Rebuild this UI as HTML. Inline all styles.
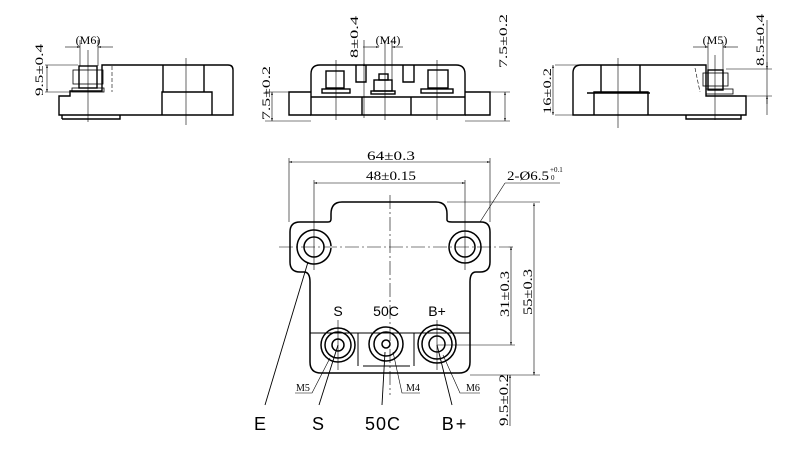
<!DOCTYPE html>
<html><head><meta charset="utf-8"><style>
html,body{margin:0;padding:0;background:#fff;}
svg{display:block}
text{font-family:"Liberation Serif",serif;fill:#000}
.s{font-family:"Liberation Sans",sans-serif}
</style></head><body>
<svg width="800" height="449" viewBox="0 0 800 449" xmlns="http://www.w3.org/2000/svg" fill="none" stroke="#000" stroke-width="1">
<defs>
<marker id="a" viewBox="0 0 10 10" refX="10" refY="5" markerWidth="7" markerHeight="5" orient="auto-start-reverse"><path d="M0,2 L10,5 L0,8z" fill="#000" stroke="none"/></marker>
</defs>

<!-- ===== Top-left side view ===== -->
<g stroke-width="1.4">
<path d="M102,65 H228 Q233,65 233,70 V115 H59 V96 H70 V91 H102 Z"/>
<line x1="62" y1="115" x2="62" y2="119"/><path d="M62,119 H120 V115"/>
<path d="M162,115 V92 H212 V115"/><line x1="163" y1="65" x2="163" y2="92"/><line x1="204" y1="65" x2="204" y2="92"/>
<rect x="79" y="66" width="18" height="22"/><rect x="73" y="70" width="30" height="14" stroke-width="0.8"/>
<rect x="72" y="88" width="32" height="4" stroke-width="0.8"/>
</g>
<g stroke-width="0.6">
<line x1="88" y1="50" x2="88" y2="122"/><line x1="186" y1="58" x2="186" y2="125"/>
<line x1="80" y1="40" x2="80" y2="66"/><line x1="98" y1="40" x2="98" y2="66"/>
<line x1="65" y1="47" x2="80" y2="47" marker-end="url(#a)"/><line x1="113" y1="47" x2="98" y2="47" marker-end="url(#a)"/>
<line x1="45" y1="65" x2="78" y2="65"/><line x1="45" y1="92" x2="72" y2="92"/>
<line x1="47" y1="65" x2="47" y2="92" marker-start="url(#a)" marker-end="url(#a)"/>
<line x1="112" y1="66" x2="112" y2="92" stroke-dasharray="4,2"/>
</g>
<text x="88" y="44" font-size="12" text-anchor="middle" stroke="none">(M6)</text>
<text transform="translate(43,96) rotate(-90)" font-size="12" textLength="52" lengthAdjust="spacingAndGlyphs" stroke="none">9.5±0.4</text>

<!-- ===== Top-middle front view ===== -->
<g stroke-width="1.4">
<path d="M311,74 Q311,65 320,65 H456 Q465,65 465,74 V115 H311 Z"/>
<path d="M311,92 H289 V115 H311"/><path d="M465,92 H490 V115 H465"/>
<line x1="311" y1="97" x2="465" y2="97"/>
<rect x="326" y="71" width="18" height="17"/><rect x="428" y="70" width="20" height="18"/>
<rect x="374" y="80" width="18" height="11"/><rect x="379" y="74" width="9" height="6"/>
<rect x="322" y="89" width="28" height="4"/><rect x="421" y="89" width="32" height="4"/><rect x="371" y="91" width="24" height="3"/>
<path d="M356,65 V82 H366 V65"/><path d="M403,65 V82 H414 V65"/>
<line x1="362" y1="97" x2="362" y2="115"/><line x1="411" y1="97" x2="411" y2="115"/>
</g>
<g stroke-width="0.6">
<line x1="336" y1="60" x2="336" y2="120"/><line x1="437" y1="60" x2="437" y2="120"/>
<line x1="385" y1="40" x2="385" y2="120"/><line x1="392" y1="40" x2="392" y2="80"/>
<line x1="363" y1="47" x2="379" y2="47" marker-end="url(#a)"/><line x1="403" y1="47" x2="392" y2="47" marker-end="url(#a)"/>
<line x1="265" y1="92" x2="289" y2="92"/><line x1="265" y1="121" x2="311" y2="121"/>
<line x1="272" y1="92" x2="272" y2="121" marker-start="url(#a)" marker-end="url(#a)"/>
<line x1="364" y1="63" x2="364" y2="118" marker-start="url(#a)"/>
<line x1="490" y1="92" x2="510" y2="92"/><line x1="465" y1="121" x2="510" y2="121"/>
<line x1="505" y1="92" x2="505" y2="121" marker-start="url(#a)" marker-end="url(#a)"/>
<line x1="364" y1="40" x2="364" y2="63"/>
</g>
<text x="388" y="44" font-size="12" text-anchor="middle" stroke="none">(M4)</text>
<text transform="translate(358,58) rotate(-90)" font-size="12" textLength="42" lengthAdjust="spacingAndGlyphs" stroke="none">8±0.4</text>
<text transform="translate(270,120) rotate(-90)" font-size="12" textLength="54" lengthAdjust="spacingAndGlyphs" stroke="none">7.5±0.2</text>
<text transform="translate(507,68) rotate(-90)" font-size="12" textLength="54" lengthAdjust="spacingAndGlyphs" stroke="none">7.5±0.2</text>

<!-- ===== Top-right side view ===== -->
<g stroke-width="1.4">
<path d="M581,65 H706 V96 H746 V115 H573 V73 Q573,65 581,65 Z"/>
<path d="M686,115 V119 H741 V115"/>
<path d="M594,115 V92 H648 V115"/><path d="M587,93 H650"/>
<line x1="601" y1="65" x2="601" y2="92"/><line x1="640" y1="65" x2="640" y2="92"/>
<rect x="708" y="70" width="15" height="20"/><rect x="703" y="73" width="25" height="13" stroke-width="0.8"/>
<rect x="706" y="89" width="27" height="5" stroke-width="0.8"/>
</g>
<g stroke-width="0.6">
<line x1="618" y1="58" x2="618" y2="128"/><line x1="715" y1="55" x2="715" y2="120"/>
<line x1="708" y1="42" x2="708" y2="70"/><line x1="723" y1="42" x2="723" y2="70"/>
<line x1="693" y1="47" x2="708" y2="47" marker-end="url(#a)"/><line x1="738" y1="47" x2="723" y2="47" marker-end="url(#a)"/>
<line x1="695" y1="68" x2="700" y2="92" stroke-dasharray="4,2"/>
<line x1="555" y1="65" x2="578" y2="65"/><line x1="555" y1="115" x2="578" y2="115"/>
<line x1="553" y1="65" x2="553" y2="115" marker-start="url(#a)" marker-end="url(#a)"/>
<line x1="726" y1="69" x2="772" y2="69"/><line x1="733" y1="96" x2="772" y2="96"/>
<line x1="767" y1="20" x2="767" y2="115" /><path d="M767,62 L767,69" marker-end="url(#a)"/><path d="M767,104 L767,96" marker-end="url(#a)"/>
</g>
<text x="715" y="44" font-size="12" text-anchor="middle" stroke="none">(M5)</text>
<text transform="translate(551,114) rotate(-90)" font-size="12" textLength="46" lengthAdjust="spacingAndGlyphs" stroke="none">16±0.2</text>
<text transform="translate(764,66) rotate(-90)" font-size="12" textLength="52" lengthAdjust="spacingAndGlyphs" stroke="none">8.5±0.4</text>

<!-- ===== Main bottom view ===== -->
<g stroke-width="1.5">
<path d="M342,202 H436 Q447,202 447,214 V220 Q447,222 452,222 H481 Q490,222 490,232 V262 Q490,272 480,272 H476 Q470,272 470,282 V362 Q470,373 459,373 H321 Q310,373 310,362 V282 Q310,272 304,272 H300 Q290,272 290,262 V232 Q290,222 300,222 H328 Q331,222 331,219 V214 Q331,202 342,202 Z"/>
<path d="M331,248 A17,17 0 1 1 331,246"/>
<circle cx="314" cy="247" r="10"/>
<circle cx="465" cy="247" r="16"/><circle cx="465" cy="247" r="10"/>
<path d="M310,333 H470" stroke-width="1"/>
<path d="M358,333 V366 M363,366 H410 M414,366 V333" stroke-width="1"/>
<circle cx="338" cy="345" r="17"/><circle cx="338" cy="345" r="13"/><circle cx="338" cy="345" r="6"/>
<circle cx="386" cy="344" r="17"/><circle cx="386" cy="344" r="12"/><circle cx="386" cy="344" r="4"/>
<circle cx="437" cy="344" r="19"/><circle cx="437" cy="344" r="15"/><circle cx="437" cy="344" r="8"/>
</g>
<g stroke-width="0.6">
<line x1="279" y1="247" x2="515" y2="247" stroke-dasharray="14,3,2,3"/>
<line x1="390" y1="195" x2="390" y2="395" stroke-dasharray="14,3,2,3"/>
<line x1="314" y1="180" x2="314" y2="270"/><line x1="465" y1="180" x2="465" y2="270"/>
<line x1="289" y1="158" x2="289" y2="222"/><line x1="490" y1="158" x2="490" y2="222"/>
<line x1="289" y1="162" x2="490" y2="162" marker-start="url(#a)" marker-end="url(#a)"/>
<line x1="314" y1="183" x2="465" y2="183" marker-start="url(#a)" marker-end="url(#a)"/>
<line x1="447" y1="202" x2="540" y2="202"/><line x1="470" y1="375" x2="540" y2="375"/>
<line x1="534" y1="203" x2="534" y2="375" marker-start="url(#a)" marker-end="url(#a)"/>
<line x1="437" y1="345" x2="515" y2="345"/>
<line x1="511" y1="247" x2="511" y2="345" marker-start="url(#a)" marker-end="url(#a)"/>
<line x1="510" y1="375" x2="510" y2="426" marker-start="url(#a)"/>
<line x1="480" y1="222" x2="505" y2="183"/><line x1="505" y1="183" x2="560" y2="183"/>
<line x1="338" y1="320" x2="338" y2="370"/><line x1="437" y1="320" x2="437" y2="370"/>
<line x1="308" y1="262" x2="265" y2="405" stroke-width="0.9"/>
<line x1="338" y1="345" x2="319" y2="405" stroke-width="0.9"/>
<line x1="385" y1="352" x2="382" y2="405" stroke-width="0.9"/>
<line x1="437" y1="345" x2="452" y2="405" stroke-width="0.9"/>
<path d="M330,358 L312,393 H295"/>
<path d="M393,352 L402,393 H420"/>
<path d="M443,355 L460,393 H480"/>
</g>
<g stroke="none">
<text x="367" y="160" font-size="13" textLength="48" lengthAdjust="spacingAndGlyphs">64±0.3</text>
<text x="366" y="180" font-size="13" textLength="50" lengthAdjust="spacingAndGlyphs">48±0.15</text>
<text x="507" y="180" font-size="13" textLength="42" lengthAdjust="spacingAndGlyphs">2-Ø6.5</text>
<text x="550" y="172" font-size="7">+0.1</text>
<text x="551" y="180" font-size="7">0</text>
<text transform="translate(509,317) rotate(-90)" font-size="13" textLength="46" lengthAdjust="spacingAndGlyphs">31±0.3</text>
<text transform="translate(532,315) rotate(-90)" font-size="13" textLength="46" lengthAdjust="spacingAndGlyphs">55±0.3</text>
<text transform="translate(508,426) rotate(-90)" font-size="13" textLength="52" lengthAdjust="spacingAndGlyphs">9.5±0.2</text>
<text x="296" y="391" font-size="10">M5</text>
<text x="406" y="391" font-size="10">M4</text>
<text x="466" y="391" font-size="10">M6</text>
<text class="s" x="338" y="316" font-size="14" text-anchor="middle">S</text>
<text class="s" x="386" y="316" font-size="14" text-anchor="middle">50C</text>
<text class="s" x="437" y="316" font-size="14" text-anchor="middle">B+</text>
<text class="s" x="260" y="430" font-size="18" text-anchor="middle">E</text>
<text class="s" x="318" y="430" font-size="18" text-anchor="middle">S</text>
<text class="s" x="383" y="430" font-size="18" text-anchor="middle" letter-spacing="1">50C</text>
<text class="s" x="455" y="430" font-size="18" text-anchor="middle" letter-spacing="2">B+</text>
</g>
</svg>
</body></html>
